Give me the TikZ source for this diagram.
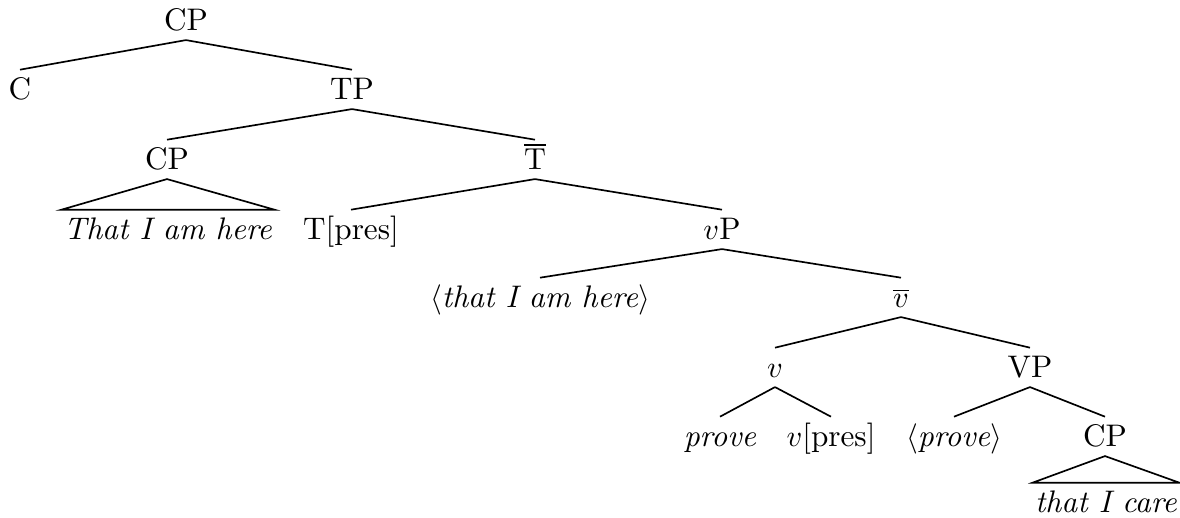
\documentclass[tikz,border=0pt]{standalone}
\begin{document}
\begin{tikzpicture}[x=0.33pt,y=-0.33pt,
  lab/.style={anchor=base, text height=7pt, text depth=0pt, inner ysep=2.8pt, inner xsep=0.6pt, font=\fontsize{10.3}{12.4}\selectfont},
  edge/.style={line width=0.55pt}]
\useasboundingbox (0,0) rectangle (1180,518);
\node[lab] (cp0) at (186,31) {CP};
\node[lab] (c) at (20,100) {C};
\node[lab] (tp) at (352,100) {TP};
\node[lab] (cp1) at (167,170) {CP};
\node[lab] (tbar) at (535,170) {$\overline{\mathrm{T}}$};
\node[lab] (l1) at (168,240) {\textit{That I am here}};
\node[lab] (tpres) at (351,240) {T[pres]};
\node[lab] (vp) at (722,240) {$v$P};
\node[lab] (tr1) at (540,308) {$\langle$\textit{that I am here}$\rangle$};
\node[lab] (vbar) at (901,308) {$\overline{v}$};
\node[lab] (v) at (775,378) {$v$};
\node[lab] (VP) at (1030,378) {VP};
\node[lab] (prove) at (720,447) {\textit{prove}};
\node[lab] (vpres) at (831,447) {$v$[pres]};
\node[lab] (tr2) at (954,447) {$\langle$\textit{prove}$\rangle$};
\node[lab] (cp2) at (1105,447) {CP};
\node[lab] (l2) at (1106,513) {\textit{that I care}};
\draw[edge] (cp0.south) -- (c.north);
\draw[edge] (cp0.south) -- (tp.north);
\draw[edge] (tp.south) -- (cp1.north);
\draw[edge] (tp.south) -- (tbar.north);
\draw[edge] (cp1.south) -- (l1.north west) -- (l1.north east) -- cycle;
\draw[edge] (tbar.south) -- (tpres.north);
\draw[edge] (tbar.south) -- (vp.north);
\draw[edge] (vp.south) -- (tr1.north);
\draw[edge] (vp.south) -- (vbar.north);
\draw[edge] (vbar.south) -- (v.north);
\draw[edge] (vbar.south) -- (VP.north);
\draw[edge] (v.south) -- (prove.north);
\draw[edge] (v.south) -- (vpres.north);
\draw[edge] (VP.south) -- (tr2.north);
\draw[edge] (VP.south) -- (cp2.north);
\draw[edge] (cp2.south) -- (l2.north west) -- (l2.north east) -- cycle;
\end{tikzpicture}
\end{document}
